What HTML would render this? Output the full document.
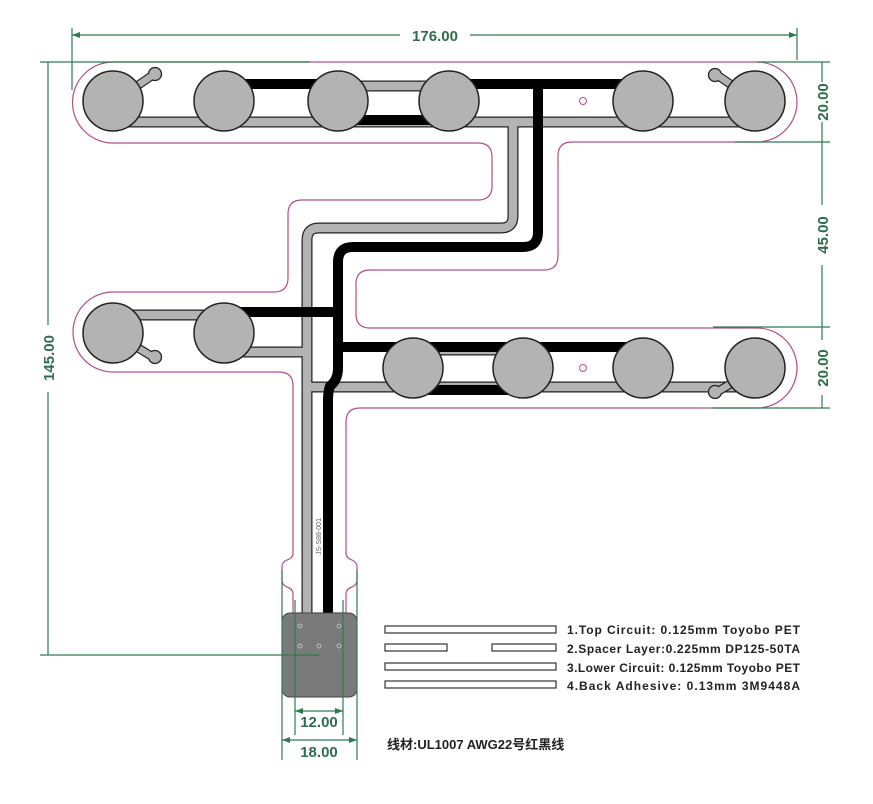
<!DOCTYPE html>
<html><head><meta charset="utf-8"><style>
html,body{margin:0;padding:0;background:#fff;}
svg{display:block;}
.dim{font-family:"Liberation Sans",sans-serif;font-weight:bold;font-size:15px;fill:#2f6e4c;}
.leg{font-family:"Liberation Sans",sans-serif;font-weight:bold;font-size:12px;fill:#222;}
</style></head><body>
<svg width="873" height="804" viewBox="0 0 873 804" xmlns="http://www.w3.org/2000/svg">
<path d="M113 62 L757 62 A40 40 0 0 1 757 142 L572 142 Q558 142 558 156 L558 256 Q558 270 544 270 L370 270 Q356 270 356 284 L356 314 Q356 328 370 328 L757 328 A40 40 0 0 1 757 408 L360 408 Q346 408 346 422 L346 553 Q346 558 352 560 Q357 562 357 567 L357 580 Q357 585 352 587 Q346 589 346 594 L346 613 L293 613 L293 594 Q293 589 287 587 Q282 585 282 580 L282 567 Q282 562 287 560 Q293 558 293 553 L293 386 Q293 372 279 372 L113 372 A40 40 0 0 1 113 292 L274 292 Q288 292 288 278 L288 214 Q288 200 302 200 L478 200 Q492 200 492 186 L492 157 Q492 143 478 143 L113 143 A40 40 0 0 1 113 62 Z" fill="none" stroke="#b0508a" stroke-width="1.2"/>
<g fill="none" stroke-linejoin="round">
<g stroke="#222" stroke-width="11">
<path d="M113 122 L755 122"/><path d="M338 86 L449 86"/>
<path d="M513 122 L513 216 Q513 228 501 228 L319 228 Q307 228 307 240 L307 613"/>
<path d="M113 315 L224 315"/><path d="M224 352 L307 352"/>
<path d="M307 387 L755 387"/><path d="M413 350 L523 350"/>
</g>
<g stroke="#b3b3b3" stroke-width="8.5">
<path d="M113 122 L755 122"/><path d="M338 86 L449 86"/>
<path d="M513 122 L513 216 Q513 228 501 228 L319 228 Q307 228 307 240 L307 613"/>
<path d="M113 315 L224 315"/><path d="M224 352 L307 352"/>
<path d="M307 387 L755 387"/><path d="M413 350 L523 350"/>
</g>
<g stroke="#000" stroke-width="10">
<path d="M224 84 L338 84"/><path d="M338 120 L449 120"/><path d="M449 84 L643 84"/>
<path d="M538 84 L538 232 Q538 247 523 247 L353 247 Q338 247 338 262 L338 368 Q338 380 330 386 Q328 392 328 400 L328 613"/>
<path d="M224 312 L338 312"/>
<path d="M338 347 L643 347"/><path d="M413 390 L523 390"/>
</g>
</g>
<g stroke-linecap="round">
<path d="M128 92 L153 75 M742 92 L717 75 M128 342 L153 357 M742 377 L717 392" stroke="#222" stroke-width="9"/>
<path d="M128 92 L153 75 M742 92 L717 75 M128 342 L153 357 M742 377 L717 392" stroke="#b3b3b3" stroke-width="6.5"/>
</g>
<g fill="#b3b3b3" stroke="#222" stroke-width="1.3">
<circle cx="155" cy="74" r="6.5"/><circle cx="715" cy="75" r="6.5"/><circle cx="155" cy="357" r="6.5"/><circle cx="715" cy="392" r="6.5"/>
</g>
<path d="M128 92 L153 75 M742 92 L717 75 M128 342 L153 357 M742 377 L717 392" stroke="#b3b3b3" stroke-width="6.5" stroke-linecap="round"/>
<g fill="#b3b3b3" stroke="#222" stroke-width="1.5">
<circle cx="113" cy="101" r="30"/><circle cx="224" cy="101" r="30"/><circle cx="338" cy="101" r="30"/><circle cx="449" cy="101" r="30"/><circle cx="643" cy="101" r="30"/><circle cx="755" cy="101" r="30"/>
<circle cx="113" cy="333" r="30"/><circle cx="224" cy="333" r="30"/>
<circle cx="413" cy="368" r="30"/><circle cx="523" cy="368" r="30"/><circle cx="643" cy="368" r="30"/><circle cx="755" cy="368" r="30"/>
</g>
<circle cx="583" cy="101" r="3.5" fill="none" stroke="#b0508a" stroke-width="1"/>
<circle cx="583" cy="368" r="3.5" fill="none" stroke="#b0508a" stroke-width="1"/>
<text x="0" y="0" transform="translate(321,555) rotate(-90)" font-family="Liberation Sans,sans-serif" font-size="7" fill="#666">JS-S88-001</text>
<rect x="282" y="613" width="75" height="84" rx="8" fill="#7a7a7a" stroke="#444" stroke-width="1"/>
<g fill="none" stroke="#ccc" stroke-width="0.8"><circle cx="300" cy="626" r="2"/><circle cx="339" cy="626" r="2"/><circle cx="300" cy="646" r="2"/><circle cx="319" cy="646" r="2"/><circle cx="339" cy="646" r="2"/></g>
<g stroke="#2f7a4f" stroke-width="1.2" fill="none">
<path d="M72 28 L72 90"/><path d="M797 28 L797 60"/>
<path d="M72 35 L400 35"/><path d="M470 35 L797 35"/>
<path d="M40 62 L310 62"/>
<path d="M757 62 L830 62"/><path d="M735 142 L830 142"/><path d="M713 327 L830 327"/><path d="M713 408 L830 408"/>
<path d="M822 62 L822 82"/><path d="M822 122 L822 205"/><path d="M822 265 L822 340"/><path d="M822 395 L822 408"/>
<path d="M48 62 L48 325"/><path d="M48 392 L48 655"/>
<path d="M40 655 L320 655"/>
<path d="M295 600 L295 735"/><path d="M343 600 L343 735"/>
<path d="M282 570 L282 760"/><path d="M357 570 L357 760"/>
<path d="M295 711 L343 711"/><path d="M282 740 L357 740"/>
</g>
<g fill="#2f7a4f">
<path d="M72 35 l8 -3 v6z"/><path d="M797 35 l-8 -3 v6z"/>
<path d="M295 711 l8 -3 v6z"/><path d="M343 711 l-8 -3 v6z"/>
<path d="M282 740 l8 -3 v6z"/><path d="M357 740 l-8 -3 v6z"/>
</g>
<text class="dim" x="435" y="41" text-anchor="middle">176.00</text>
<text class="dim" transform="translate(828,102) rotate(-90)" text-anchor="middle">20.00</text>
<text class="dim" transform="translate(828,235) rotate(-90)" text-anchor="middle">45.00</text>
<text class="dim" transform="translate(828,368) rotate(-90)" text-anchor="middle">20.00</text>
<text class="dim" transform="translate(54,358) rotate(-90)" text-anchor="middle">145.00</text>
<text class="dim" x="319" y="727" text-anchor="middle">12.00</text>
<text class="dim" x="319" y="757" text-anchor="middle">18.00</text>
<g fill="none" stroke="#333" stroke-width="1.2">
<rect x="385" y="626" width="171" height="7"/>
<rect x="385" y="644" width="62" height="7"/><rect x="492" y="644" width="64" height="7"/>
<rect x="385" y="663" width="171" height="7"/>
<rect x="385" y="681" width="171" height="7"/>
</g>
<text class="leg" x="567" y="634" textLength="233">1.Top  Circuit:  0.125mm  Toyobo PET</text>
<text class="leg" x="567" y="653" textLength="233">2.Spacer Layer:0.225mm  DP125-50TA</text>
<text class="leg" x="567" y="672" textLength="233">3.Lower Circuit: 0.125mm Toyobo PET</text>
<text class="leg" x="567" y="690" textLength="233">4.Back Adhesive:   0.13mm  3M9448A</text>
<text x="387" y="749" font-family="Liberation Sans,'Noto Sans CJK SC',sans-serif" font-weight="bold" font-size="13" fill="#222">线材:UL1007 AWG22号红黑线</text>
</svg>
</body></html>
